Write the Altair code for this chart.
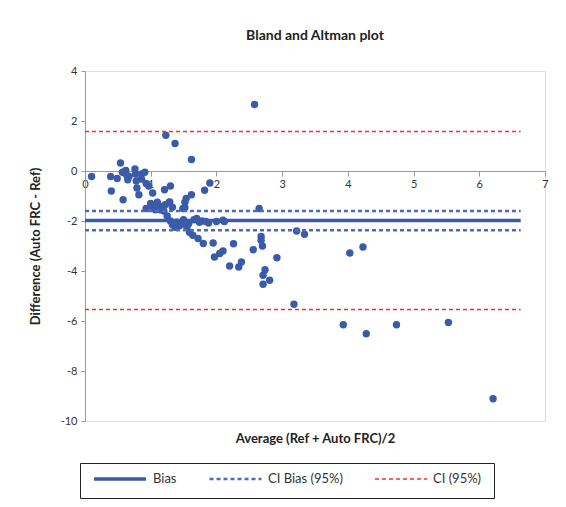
import altair as alt
import pandas as pd

# ---- data ----
avg_x = [0.10, 0.39, 0.40, 0.49, 0.54, 0.57, 0.58, 0.62, 0.63, 0.65, 0.67, 0.76, 0.77, 0.78,
         0.79, 0.82, 0.86, 0.86, 0.91, 0.93, 0.97, 1.03, 1.00, 1.03, 1.07, 1.10, 1.13, 1.17,
         1.20, 1.22, 1.23, 1.21, 1.30, 1.28, 1.33, 1.37, 1.25, 1.30, 1.33, 1.37, 1.40, 1.43,
         1.47, 1.50, 1.52, 1.54, 1.49, 1.55, 1.58, 1.59, 1.62, 1.62, 1.64, 1.66, 1.70, 1.72,
         1.74, 1.78, 1.80, 1.82, 1.84, 1.88, 1.90, 1.95, 1.97, 2.00, 2.05, 2.10, 2.10, 2.12,
         2.20, 2.26, 2.34, 2.38, 2.56, 2.58, 2.65, 2.68, 2.68, 2.70, 2.74, 2.71, 2.81, 2.71,
         2.92, 3.18, 3.22, 3.34, 4.03, 4.23, 3.93, 4.28, 4.74, 5.53, 6.21, 1.09, 1.14, 0.93,
         1.34, 1.44, 1.52, 1.29]
diff_y = [-0.22, -0.22, -0.80, -0.30, 0.32, -0.05, -1.15, 0.02, -0.15, -0.35, -0.22, 0.08, -0.12, -0.40,
          -0.68, -0.95, -0.12, -0.32, -0.05, -0.50, -0.60, -0.88, -1.30, -1.45, -1.55, -1.25, -1.40, -1.50,
          -1.60, -1.35, 1.43, -0.75, -0.60, -1.25, -1.45, 1.10, -1.80, -2.00, -2.15, -2.25, -2.05, -2.20,
          -2.10, -1.95, -1.25, -1.10, -1.50, -2.25, -2.10, -2.45, -0.95, 0.46, -2.57, -1.95, -1.90, -2.70,
          -2.05, -2.00, -2.90, -0.77, -2.02, -2.08, -0.48, -2.88, -3.44, -2.02, -3.30, -3.20, -1.97, -2.02,
          -3.80, -2.91, -3.84, -3.64, -3.15, 2.66, -1.50, -2.62, -2.77, -3.00, -3.95, -4.17, -4.37, -4.53,
          -3.47, -5.33, -2.40, -2.53, -3.28, -3.04, -6.15, -6.51, -6.15, -6.06, -9.11, -1.31, -1.55, -1.50,
          -2.10, -2.17, -1.47, -1.24]

series_names = ["Bias", "CI Bias (95%)", "CI (95%)"]
bias_level = [-1.98]
ci_bias_levels = [-1.60, -2.37]
ci_levels = [1.58, -5.54]
line_x = [0.0, 6.63]

x_ticks = [0, 1, 2, 3, 4, 5, 6, 7]
y_ticks = [4, 2, 0, -2, -4, -6, -8, -10]

pts = pd.DataFrame({"x": avg_x, "y": diff_y})

rows = []
for name, levels in zip(series_names, [bias_level, ci_bias_levels, ci_levels]):
    for i, lv in enumerate(levels):
        for xx in line_x:
            rows.append({"series": name, "grp": f"{name}-{i}", "x": xx, "y": lv})
lines = pd.DataFrame(rows)

FONT = "Lato"
W, H = 460, 350

xscale = alt.Scale(domain=[0, 7], nice=False, zero=False)
yscale = alt.Scale(domain=[-10, 4], nice=False, zero=False)

x_axis = alt.Axis(values=x_ticks, offset=-250, title="Average (Ref + Auto FRC)/2",
                  titleY=267, titleBaseline="middle", titleFontWeight="bold",
                  titleFontSize=13, titleColor="#222", labelFontSize=11, labelColor="#333",
                  labelFont=FONT, titleFont=FONT, domainColor="#9a9a9a", tickColor="#9a9a9a",
                  tickSize=5, labelPadding=2, grid=False, labelFlush=False)
y_axis = alt.Axis(values=y_ticks, title="Difference (Auto FRC - Ref)", titleX=-50,
                  titleBaseline="middle", titleFontWeight="bold", titleFontSize=13,
                  titleColor="#222", labelFontSize=11, labelColor="#333", labelFont=FONT,
                  titleFont=FONT, domainColor="#9a9a9a", tickColor="#9a9a9a", tickSize=4,
                  labelPadding=4, grid=False, labelExpr="'' + datum.value")

legend = alt.Legend(title=None, orient="none", legendX=-5, legendY=392, direction="horizontal",
                    symbolType="stroke", symbolSize=2700, clipHeight=8, labelFont=FONT,
                    labelFontSize=13, labelColor="#333", strokeColor="#222", padding=12,
                    columnPadding=31, labelOffset=5, fillColor="white")

line_layer = alt.Chart(lines).mark_line().encode(
    x=alt.X("x:Q", scale=xscale, axis=x_axis),
    y=alt.Y("y:Q", scale=yscale, axis=y_axis),
    detail="grp:N",
    color=alt.Color("series:N", scale=alt.Scale(domain=series_names,
                    range=["#3A5BAA", "#4A6CC4", "#FF2A2A"]), legend=legend),
    strokeDash=alt.StrokeDash("series:N", scale=alt.Scale(domain=series_names,
                    range=[[1, 0], [4, 3], [4, 3]]), legend=legend),
    strokeWidth=alt.StrokeWidth("series:N", scale=alt.Scale(domain=series_names,
                    range=[3.5, 1.6, 1.6]), legend=legend),
)

point_layer = alt.Chart(pts).mark_circle(size=55, opacity=1, color="#3A5BAA").encode(
    x=alt.X("x:Q", scale=xscale, axis=x_axis),
    y=alt.Y("y:Q", scale=yscale, axis=y_axis),
)

chart = alt.layer(point_layer, line_layer).properties(
    width=W, height=H,
    title=alt.TitleParams("Bland and Altman plot", font=FONT, fontSize=14, fontWeight="bold",
                          color="#222", offset=22),
    autosize=alt.AutoSizeParams(type="none"),
    padding={"left": 77, "top": 63, "right": 13, "bottom": 78},
).configure_view(
    stroke="#b0b0b0", strokeDash=[2, 2], strokeWidth=1
).configure_legend(strokeWidth=2).configure(background="white")

chart.save("out.html", embed_options={"renderer": "svg", "actions": False})
